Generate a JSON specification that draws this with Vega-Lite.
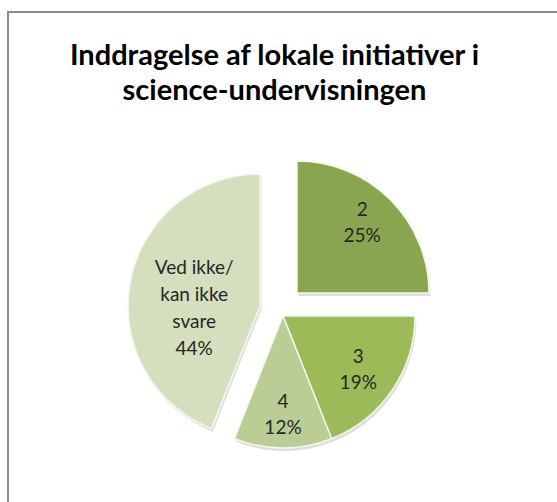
{
  "$schema": "https://vega.github.io/schema/vega-lite/v6.json",
  "width": 549,
  "height": 490,
  "autosize": {"type": "none"},
  "padding": {"left": 8, "top": 12, "right": 0, "bottom": 0},
  "background": "white",
  "config": {"view": {"stroke": null}},
  "title": {
    "text": ["Inddragelse af lokale initiativer i", "science-undervisningen"],
    "anchor": "middle",
    "frame": "group",
    "orient": "top",
    "offset": -95,
    "dx": -8,
    "font": "Lato",
    "fontSize": 29,
    "fontWeight": "bold",
    "color": "#000000",
    "lineHeight": 35
  },
  "layer": [
    {
      "data": {"values": [{"frame": 1}]},
      "mark": {"type": "rect", "filled": false, "stroke": "#8c8c8c", "strokeWidth": 2, "strokeDash": [549, 1039, 490]},
      "encoding": {}
    },
    {
      "data": {
        "values": [
          {"cat": "2", "pct": 25, "order": 1},
          {"cat": "3", "pct": 19, "order": 2},
          {"cat": "4", "pct": 12, "order": 3},
          {"cat": "Ved ikke/\nkan ikke\nsvare", "pct": 44, "order": 4}
        ]
      },
      "transform": [
        {"stack": "pct", "groupby": [], "sort": [{"field": "order", "order": "ascending"}], "as": ["t0", "t1"]},
        {"calculate": "(datum.t0 + datum.t1) / 2", "as": "mid"},
        {"calculate": "datum.cat + '\\n' + datum.pct + '%'", "as": "label"}
      ],
      "layer": [
        {
          "transform": [{"filter": "datum.order == 1"}],
          "layer": [
            {
              "mark": {"type": "arc", "outerRadius": 132, "xOffset": 16, "yOffset": 39, "color": "#000000", "opacity": 0.13},
              "encoding": {
                "theta": {"field": "t0", "type": "quantitative", "scale": {"domain": [0, 100]}},
                "theta2": {"field": "t1"}
              }
            },
            {
              "mark": {"type": "arc", "outerRadius": 132, "xOffset": 14.5, "yOffset": 36, "stroke": "#f4f7ee", "strokeWidth": 1.5},
              "encoding": {
                "theta": {"field": "t0", "type": "quantitative", "scale": {"domain": [0, 100]}},
                "theta2": {"field": "t1"},
                "color": {"field": "cat", "type": "nominal", "legend": null,
                  "scale": {"domain": ["2", "3", "4", "Ved ikke/\nkan ikke\nsvare"], "range": ["#8aa54f", "#9cbb58", "#b9cd95", "#d3dfbd"]}}
              }
            },
            {
              "mark": {"type": "text", "radius": 95, "xOffset": 14.5, "yOffset": 36, "dx": -2, "dy": -16, "font": "Lato", "fontSize": 19, "lineHeight": 26, "lineBreak": "\n", "align": "center", "baseline": "middle", "color": "#262626"},
              "encoding": {
                "theta": {"field": "mid", "type": "quantitative", "scale": {"domain": [0, 100]}},
                "text": {"field": "label"}
              }
            }
          ]
        },
        {
          "transform": [{"filter": "datum.order == 2 || datum.order == 3"}],
          "layer": [
            {
              "mark": {"type": "arc", "outerRadius": 132, "xOffset": 2, "yOffset": 62, "color": "#000000", "opacity": 0.13},
              "encoding": {
                "theta": {"field": "t0", "type": "quantitative", "scale": {"domain": [0, 100]}},
                "theta2": {"field": "t1"}
              }
            },
            {
              "mark": {"type": "arc", "outerRadius": 132, "xOffset": 0.5, "yOffset": 59, "stroke": "#f4f7ee", "strokeWidth": 1.5},
              "encoding": {
                "theta": {"field": "t0", "type": "quantitative", "scale": {"domain": [0, 100]}},
                "theta2": {"field": "t1"},
                "color": {"field": "cat", "type": "nominal", "legend": null}
              }
            }
          ]
        },
        {
          "transform": [{"filter": "datum.order == 2"}],
          "mark": {"type": "text", "radius": 91, "xOffset": 0.5, "yOffset": 59, "dy": -10, "font": "Lato", "fontSize": 19, "lineHeight": 26, "lineBreak": "\n", "align": "center", "baseline": "middle", "color": "#262626"},
          "encoding": {
            "theta": {"field": "mid", "type": "quantitative", "scale": {"domain": [0, 100]}},
            "text": {"field": "label"}
          }
        },
        {
          "transform": [{"filter": "datum.order == 3"}],
          "mark": {"type": "text", "radius": 99, "xOffset": 0.5, "yOffset": 59, "dy": -13, "font": "Lato", "fontSize": 19, "lineHeight": 26, "lineBreak": "\n", "align": "center", "baseline": "middle", "color": "#262626"},
          "encoding": {
            "theta": {"field": "mid", "type": "quantitative", "scale": {"domain": [0, 100]}},
            "text": {"field": "label"}
          }
        },
        {
          "transform": [{"filter": "datum.order == 4"}],
          "layer": [
            {
              "mark": {"type": "arc", "outerRadius": 132, "xOffset": -21, "yOffset": 52, "color": "#000000", "opacity": 0.13},
              "encoding": {
                "theta": {"field": "t0", "type": "quantitative", "scale": {"domain": [0, 100]}},
                "theta2": {"field": "t1"}
              }
            },
            {
              "mark": {"type": "arc", "outerRadius": 132, "xOffset": -22.5, "yOffset": 49, "stroke": "#f4f7ee", "strokeWidth": 1.5},
              "encoding": {
                "theta": {"field": "t0", "type": "quantitative", "scale": {"domain": [0, 100]}},
                "theta2": {"field": "t1"},
                "color": {"field": "cat", "type": "nominal", "legend": null}
              }
            },
            {
              "mark": {"type": "text", "radius": 67, "xOffset": -22.5, "yOffset": 49, "dy": -25, "font": "Lato", "fontSize": 19, "lineHeight": 27, "lineBreak": "\n", "align": "center", "baseline": "middle", "color": "#262626"},
              "encoding": {
                "theta": {"field": "mid", "type": "quantitative", "scale": {"domain": [0, 100]}},
                "text": {"field": "label"}
              }
            }
          ]
        }
      ]
    }
  ]
}
